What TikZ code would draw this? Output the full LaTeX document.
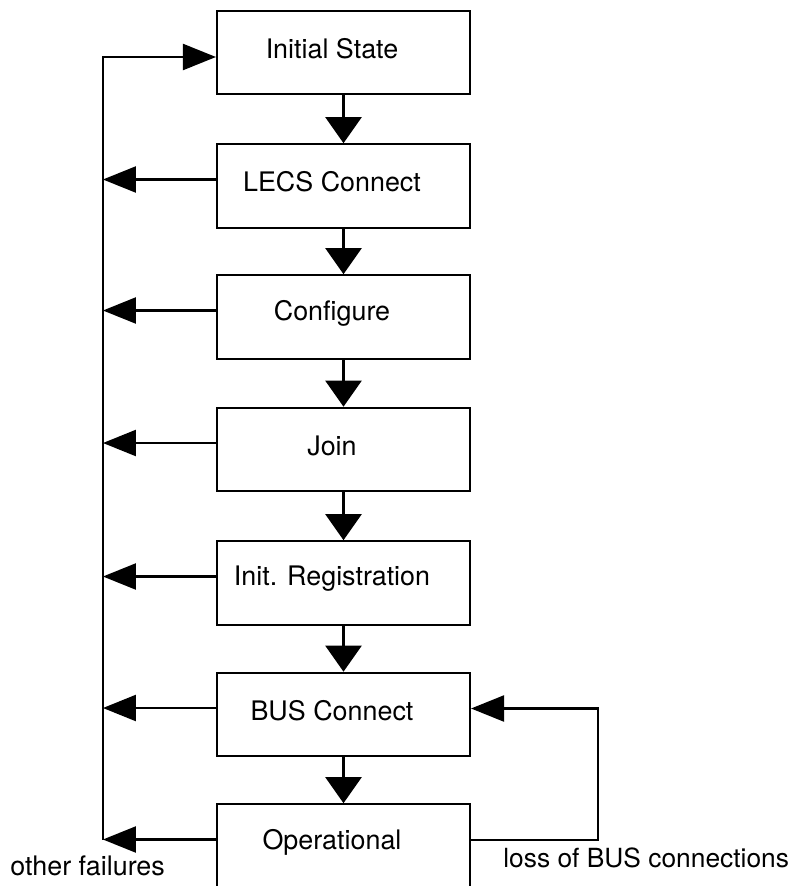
\documentclass[tikz,border=0pt]{standalone}
\usepackage{fontspec}
\setmainfont{TeX Gyre Heros}
\usetikzlibrary{arrows.meta}

\begin{document}
\begin{tikzpicture}
		[statebox/.style={rectangle,draw=black,line width=1.2pt,
minimum width=5.06cm,minimum height=1.67cm,inner sep=0pt,
label={[xshift=-0.23cm,yshift=0.08cm]center:#1}},
		textstyle/.style={inner sep=0pt},
		varrow/.style={-{Triangle[length=0.52cm,width=0.72cm]},line width=1.3pt},
		harrow/.style={-{Triangle[length=0.66cm,width=0.52cm]},line width=1.3pt},
		font=\fontsize{15.3}{18}\selectfont]
		\useasboundingbox (0,0) rectangle (15.8,-17.72);
		\node at (6.87,-1.05) (init) [statebox=Initial State] {};
		\node at (6.87,-3.72) (lecs) [statebox=LECS Connect] {};
		\node at (6.87,-6.34) (conf) [statebox=Configure] {};
		\node at (6.87,-8.99) (join) [statebox=Join] {};
		\node at (6.87,-11.66) (reg) [statebox=Init. Registration] {};
		\node at (6.87,-14.29) (bus) [statebox=BUS Connect] {};
		\node at (6.87,-16.92) (op) [statebox=Operational] {};
		\node at (0.2,-17.5) (fail) [textstyle,anchor=base west] {other failures};
		\node at (10.06,-17.34) (loss) [textstyle,anchor=base west,font=\fontsize{15}{18}\selectfont] {loss of BUS connections};
		\draw[varrow] (init) -- (lecs);
		\draw[varrow] (lecs) -- (conf);
		\draw[varrow] (conf) -- (join);
		\draw[varrow] (join) -- (reg);
		\draw[varrow] (reg) -- (bus);
		\draw[varrow] (bus) -- (op);
		\foreach \n in {lecs,conf,join,reg,bus,op}
			\draw[harrow] ([yshift=0.13cm]\n.west) -- ++(-2.26,0);
		\draw[harrow] ([yshift=0.13cm]op.west) ++(-2.26,0) |- ([yshift=-0.09cm]init.west);
		\draw[harrow] ([yshift=0.12cm]op.east) -- ++(2.54,0) |- ([yshift=0.12cm]bus.east);
	\end{tikzpicture}
\end{document}
